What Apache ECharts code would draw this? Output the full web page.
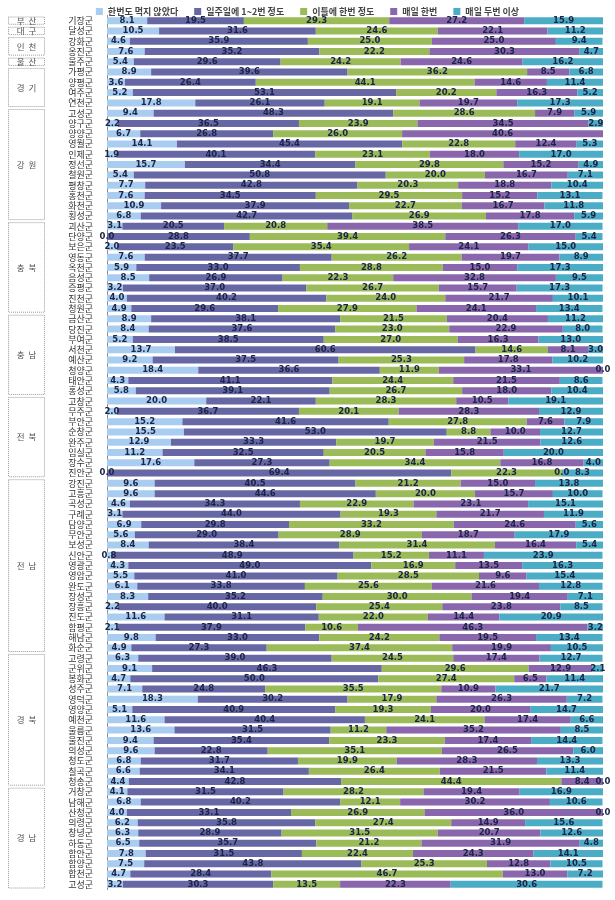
<!DOCTYPE html>
<html>
<head>
<meta charset="utf-8">
<script src="https://cdn.jsdelivr.net/npm/echarts@6/dist/echarts.min.js"></script>
<style>
html,body{margin:0;padding:0;background:#fff;}
#c{width:615px;height:900px;}
</style>
</head>
<body>
<div id="c"></div>
<script>
const seriesNames = ['한번도 먹지 않았다','일주일에 1~2번 정도','이틀에 한번 정도','매일 한번','매일 두번 이상'];
const counties = ['기장군','달성군','강화군','옹진군','울주군','가평군','양평군','여주군','연천군',
'고성군','양구군','양양군','영월군','인제군','정선군','철원군','평창군','홍천군','화천군','횡성군',
'괴산군','단양군','보은군','영동군','옥천군','음성군','증평군','진천군','청원군',
'금산군','당진군','부여군','서천군','예산군','청양군','태안군','홍성군',
'고창군','무주군','부안군','순창군','완주군','임실군','장수군','진안군',
'강진군','고흥군','곡성군','구례군','담양군','무안군','보성군','신안군','영광군','영암군','완도군','장성군','장흥군','진도군','함평군','해남군','화순군',
'고령군','군위군','봉화군','성주군','영덕군','영양군','예천군','울릉군','울진군','의성군','청도군','칠곡군','청송군',
'거창군','남해군','산청군','의령군','창녕군','하동군','함안군','함양군','합천군','고성군'];
const groupNames = ['부 산','대 구','인 천','울 산','경 기','강 원','충 북','충 남','전 북','전 남','경 북','경 남'];
const groupSizes = [1,1,2,1,4,11,9,8,8,17,13,10];

const never = [8.1,10.5,4.6,7.6,5.4,8.9,3.6,5.2,17.8,
9.4,2.2,6.7,14.1,1.9,15.7,5.4,7.7,7.6,10.9,6.8,
3.1,0.0,2.0,7.6,5.9,8.5,3.2,4.0,4.9,
8.9,8.4,5.2,13.7,9.2,18.4,4.3,5.8,
20.0,2.0,15.2,15.5,12.9,11.2,17.6,0.0,
9.6,9.6,4.6,3.1,6.9,5.6,8.4,0.8,4.3,5.5,6.1,8.3,2.2,11.6,2.1,9.8,4.9,
6.3,9.1,4.7,7.1,18.3,5.1,11.6,13.6,9.4,9.6,6.8,6.6,4.4,
4.1,6.8,4.0,6.2,6.3,6.5,7.8,7.5,4.7,3.2];
const weekly = [19.5,31.6,35.9,35.2,29.6,39.6,26.4,53.1,26.1,
48.3,36.5,26.8,45.4,40.1,34.4,50.8,42.8,34.5,37.9,42.7,
20.5,28.8,23.5,37.7,33.0,26.9,37.0,40.2,29.6,
38.1,37.6,38.5,60.6,37.5,36.6,41.1,39.1,
22.1,36.7,41.6,53.0,33.3,32.5,27.3,69.4,
40.5,44.6,34.3,44.0,29.8,29.0,38.4,48.9,49.0,41.0,33.8,35.2,40.0,31.1,37.9,33.0,27.3,
39.0,46.3,50.0,24.8,30.2,40.9,40.4,31.5,35.4,22.8,31.7,34.1,42.8,
31.5,40.2,33.1,35.8,28.9,35.7,31.5,43.8,28.4,30.3];
const everyTwoDays = [29.3,24.6,25.0,22.2,24.2,36.2,44.1,20.2,19.1,
28.6,23.9,26.0,22.8,23.1,29.8,20.0,20.3,29.5,22.7,26.9,
20.8,39.4,35.4,26.2,28.8,22.3,26.7,24.0,27.9,
21.5,23.0,27.0,14.6,25.3,11.9,24.4,26.7,
28.3,20.1,27.8,8.8,19.7,20.5,34.4,22.3,
21.2,20.0,22.9,19.3,33.2,28.9,31.4,15.2,16.9,28.5,25.6,30.0,25.4,22.0,10.6,24.2,37.4,
24.5,29.6,27.4,35.5,17.9,19.3,24.1,11.2,23.3,35.1,19.9,26.4,44.4,
28.2,12.1,26.9,27.4,31.5,21.2,22.4,25.3,46.7,13.5];
const daily = [27.2,22.1,25.0,30.3,24.6,8.5,14.6,16.3,19.7,
7.9,34.5,40.6,12.4,18.0,15.2,16.7,18.8,15.2,16.7,17.8,
38.5,26.3,24.1,19.7,15.0,32.8,15.7,21.7,24.1,
20.4,22.9,16.3,8.1,17.8,33.1,21.5,18.0,
10.5,28.3,7.6,10.0,21.5,15.8,16.8,0.0,
15.0,15.7,23.1,21.7,24.6,18.7,16.4,11.1,13.5,9.6,21.6,19.4,23.8,14.4,46.3,19.5,19.9,
17.4,12.9,6.5,10.9,26.3,20.0,17.4,35.2,17.4,26.5,28.3,21.5,8.4,
19.4,30.2,36.0,14.9,20.7,31.9,24.3,12.8,13.0,22.3];
const twicePlus = [15.9,11.2,9.4,4.7,16.2,6.8,11.4,5.2,17.3,
5.9,2.9,null,5.3,17.0,4.9,7.1,10.4,13.1,11.8,5.9,
17.0,5.4,15.0,8.9,17.3,9.5,17.3,10.1,13.4,
11.2,8.0,13.0,3.0,10.2,0.0,8.6,10.4,
19.1,12.9,7.9,12.7,12.6,20.0,4.0,8.3,
13.8,10.0,15.1,11.9,5.6,17.9,5.4,23.9,16.3,15.4,12.8,7.1,8.5,20.9,3.2,13.4,10.5,
12.7,2.1,11.4,21.7,7.2,14.7,6.6,8.5,14.4,6.0,13.3,11.4,0.0,
16.9,10.6,0.0,15.6,12.6,4.8,14.1,10.5,7.2,30.6];

const colors = ['#a9cdf0','#6767a6','#9bbb59','#8a67ad','#4bacc6'];
const dataSets = [never, weekly, everyTwoDays, daily, twicePlus];

const chart = echarts.init(document.getElementById('c'));
const option = {
  animation: false,
  color: colors,
  legend: {
    top: 2, left: 'center',
    itemWidth: 7, itemHeight: 7, itemGap: 16,
    icon: 'rect',
    textStyle: {fontSize: 9, color: '#444', fontWeight: 'bold', fontFamily: 'Noto Sans CJK KR'},
    data: seriesNames
  },
  grid: {left: 107, right: 12, top: 15.5, bottom: 10.5},
  xAxis: {type: 'value', min: 0, max: 100, show: false},
  yAxis: {
    type: 'category', data: counties, inverse: true,
    axisLine: {show: true, lineStyle: {color: '#888', width: 1}},
    axisTick: {show: false},
    axisLabel: {fontSize: 9, color: '#333', margin: 14, fontFamily: 'Noto Sans CJK KR', interval: 0}
  },
  series: seriesNames.map((n, i) => ({
    name: n, type: 'bar', stack: 'all', barWidth: 7,
    data: dataSets[i],
    itemStyle: {color: colors[i]},
    label: {
      show: true, position: 'inside',
      fontSize: 8.5, fontWeight: 'bold', color: '#1c2545',
      fontFamily: 'DejaVu Sans',
      formatter: p => (p.value == null ? '' : Number(p.value).toFixed(1))
    }
  }))
};
chart.setOption(option);

// group boxes on the left, positioned from the category axis
const graphics = [];
let start = 0;
const band = chart.convertToPixel({yAxisIndex: 0}, 1) - chart.convertToPixel({yAxisIndex: 0}, 0);
groupNames.forEach((g, gi) => {
  const end = start + groupSizes[gi] - 1;
  const yA = chart.convertToPixel({yAxisIndex: 0}, start) - band / 2 + 1.5;
  const yB = chart.convertToPixel({yAxisIndex: 0}, end) + band / 2 - 1.5;
  graphics.push({
    type: 'rect', shape: {x: 8.5, y: yA, width: 36, height: yB - yA},
    style: {fill: 'none', stroke: '#9a9a9a', lineWidth: 1, lineDash: [1, 1]}, silent: true
  });
  graphics.push({
    type: 'text', x: 26.5, y: (yA + yB) / 2,
    style: {text: g.replace(' ', '  '), fontSize: 8.5, fill: '#555', align: 'center', verticalAlign: 'middle', fontFamily: 'Noto Sans CJK KR'},
    silent: true
  });
  start = end + 1;
});
chart.setOption({graphic: graphics});
</script>
</body>
</html>
